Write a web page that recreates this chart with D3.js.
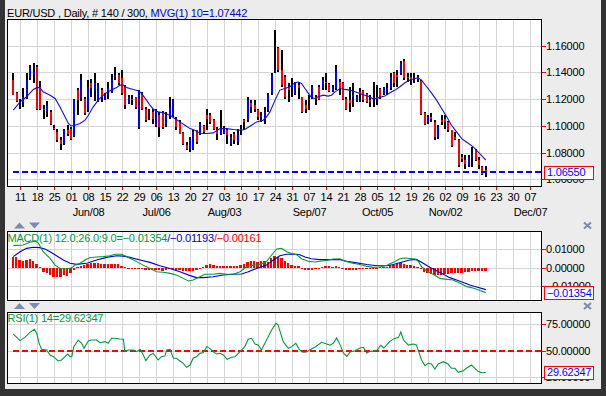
<!DOCTYPE html>
<html><head><meta charset="utf-8">
<script src="https://cdn.jsdelivr.net/npm/d3@7"></script>
<style>
body{margin:0;background:#ececec;}
text{font-family:"Liberation Sans",Arial,sans-serif;font-size:11px;letter-spacing:-0.2px;}
</style>
</head><body>
<svg id="c" width="606" height="396"></svg>
<script>
// ---------- DATA ----------
const openP=[1.1343,1.1243,1.1168,1.1180,1.1230,1.1355,1.1380,1.1443,1.1293,1.1130,1.1105,1.1105,1.0988,1.0955,1.0893,1.0868,1.0968,1.0980,1.0923,1.1268,
1.1218,1.1205,1.1118,1.1318,1.1268,1.1193,1.1268,1.1198,1.1243,1.1255,1.1368,1.1380,1.1355,1.1293,1.1173,1.1205,1.1213,1.0993,1.1243,1.1130,
1.1093,1.1105,1.1005,1.1080,1.1093,1.1018,1.1080,1.1080,1.1055,1.1030,1.0948,1.0855,1.0830,1.0830,1.0968,1.0943,1.0998,1.1080,1.1085,1.1048,
1.0968,1.0943,1.0948,1.0968,1.0868,1.0943,1.0880,1.0968,1.1043,1.1043,1.1168,1.1155,1.1118,1.1068,1.1055,1.1118,1.1243,1.1405,1.1580,1.1418,
1.1368,1.1293,1.1293,1.1238,1.1305,1.1213,1.1155,1.1193,1.1218,1.1218,1.1293,1.1280,1.1330,1.1313,1.1260,1.1280,1.1330,1.1318,1.1205,1.1193,
1.1218,1.1185,1.1255,1.1260,1.1238,1.1193,1.1205,1.1218,1.1275,1.1238,1.1268,1.1280,1.1393,1.1380,1.1393,1.1488,1.1368,1.1363,1.1355,1.1363,
1.1338,1.1093,1.1030,1.1068,1.1030,1.0918,1.1043,1.1055,1.1030,1.0968,1.0918,1.0898,1.0768,1.0743,1.0705,1.0768,1.0818,1.0743,1.0693,1.0668];
const highP=[1.1398,1.1255,1.1205,1.1280,1.1393,1.1455,1.1468,1.1455,1.1338,1.1155,1.1188,1.1118,1.1005,1.0975,1.0918,1.0980,1.1010,1.0993,1.1200,1.1280,
1.1388,1.1218,1.1343,1.1348,1.1398,1.1318,1.1280,1.1243,1.1330,1.1385,1.1438,1.1393,1.1418,1.1305,1.1230,1.1230,1.1218,1.1268,1.1255,1.1143,
1.1125,1.1125,1.1130,1.1105,1.1110,1.1105,1.1218,1.1205,1.1068,1.1043,1.0955,1.0880,1.0918,1.0968,1.0973,1.1030,1.1005,1.1130,1.1098,1.1055,
1.0993,1.1118,1.0998,1.0980,1.0943,1.0955,1.0980,1.1005,1.1055,1.1218,1.1193,1.1193,1.1130,1.1105,1.1143,1.1243,1.1398,1.1718,1.1593,1.1568,
1.1380,1.1318,1.1355,1.1330,1.1330,1.1218,1.1193,1.1230,1.1305,1.1230,1.1305,1.1368,1.1393,1.1318,1.1305,1.1455,1.1348,1.1330,1.1218,1.1293,
1.1318,1.1230,1.1280,1.1268,1.1243,1.1230,1.1330,1.1305,1.1280,1.1293,1.1318,1.1393,1.1405,1.1418,1.1488,1.1498,1.1393,1.1393,1.1393,1.1380,
1.1343,1.1105,1.1080,1.1098,1.1043,1.1005,1.1080,1.1080,1.1038,1.0973,1.0955,1.0905,1.0793,1.0780,1.0780,1.0843,1.0830,1.0768,1.0698,1.0698];
const lowP=[1.1230,1.1180,1.1130,1.1143,1.1205,1.1343,1.1318,1.1118,1.1118,1.1055,1.1068,1.1005,1.0968,1.0880,1.0818,1.0855,1.0925,1.0893,1.0918,1.1080,
1.1188,1.1080,1.1105,1.1218,1.1188,1.1180,1.1180,1.1193,1.1205,1.1243,1.1343,1.1305,1.1230,1.1130,1.1163,1.1155,1.1130,1.0980,1.1118,1.1030,
1.1043,1.1018,1.0993,1.0918,1.0980,1.0993,1.1055,1.1068,1.0968,1.0938,1.0855,1.0818,1.0805,1.0818,1.0868,1.0930,1.0943,1.0968,1.1018,1.0968,
1.0893,1.0930,1.0943,1.0868,1.0848,1.0868,1.0855,1.0930,1.0968,1.1030,1.1093,1.1105,1.1043,1.1030,1.1018,1.1105,1.1230,1.1393,1.1405,1.1293,
1.1205,1.1180,1.1218,1.1230,1.1205,1.1093,1.1093,1.1118,1.1205,1.1155,1.1193,1.1268,1.1268,1.1255,1.1255,1.1268,1.1230,1.1193,1.1118,1.1105,
1.1143,1.1180,1.1180,1.1180,1.1168,1.1138,1.1143,1.1155,1.1205,1.1230,1.1230,1.1268,1.1293,1.1293,1.1380,1.1343,1.1330,1.1305,1.1318,1.1330,
1.1080,1.1005,1.1018,1.1030,1.0898,1.0905,1.1005,1.0980,1.0955,1.0843,1.0893,1.0693,1.0730,1.0680,1.0693,1.0693,1.0738,1.0680,1.0630,1.0618];
const closeP=[1.1235,1.1188,1.1180,1.1218,1.1343,1.1430,1.1405,1.1130,1.1130,1.1118,1.1155,1.1013,1.0975,1.0893,1.0868,1.0968,1.0943,1.0905,1.1193,1.1193,
1.1343,1.1093,1.1293,1.1280,1.1318,1.1305,1.1218,1.1235,1.1280,1.1343,1.1380,1.1318,1.1243,1.1155,1.1218,1.1193,1.1143,1.1255,1.1130,1.1043,
1.1105,1.1055,1.1118,1.0993,1.0993,1.1080,1.1143,1.1193,1.0993,1.0943,1.0868,1.0830,1.0893,1.0955,1.0880,1.1018,1.0955,1.1055,1.1030,1.0980,
1.0943,1.0980,1.0988,1.0930,1.0918,1.0893,1.0943,1.0980,1.1030,1.1193,1.1143,1.1130,1.1068,1.1080,1.1105,1.1230,1.1380,1.1418,1.1418,1.1305,
1.1218,1.1268,1.1305,1.1323,1.1280,1.1105,1.1130,1.1205,1.1293,1.1205,1.1205,1.1343,1.1318,1.1263,1.1293,1.1418,1.1280,1.1205,1.1130,1.1168,
1.1230,1.1223,1.1243,1.1193,1.1180,1.1180,1.1218,1.1205,1.1213,1.1280,1.1280,1.1368,1.1318,1.1368,1.1473,1.1355,1.1355,1.1348,1.1363,1.1348,
1.1088,1.1018,1.1068,1.1055,1.0918,1.0993,1.1030,1.1030,1.0968,1.0848,1.0905,1.0705,1.0755,1.0718,1.0768,1.0780,1.0743,1.0705,1.0643,1.0655];

// moving average MVG(10), read as [bar, value]
const maLine=[[0,1.1118],[2,1.1180],[3.9,1.1218],[5.9,1.1273],[7.1,1.1288],[7.8,1.1285],[8.8,1.1255],[10.8,1.1230],[12.3,1.1205],[13.7,1.1143],
[15.2,1.1068],[16.2,1.1018],[17,1.1000],[18.1,1.1005],[19.6,1.1018],[21.1,1.1043],[22.1,1.1080],[23.5,1.1143],[25,1.1193],[26.5,1.1230],
[27.5,1.1250],[28.9,1.1268],[30.4,1.1288],[31.4,1.1305],[32.4,1.1305],[33.3,1.1288],[35.3,1.1273],[36.8,1.1263],[37.7,1.1243],[39.2,1.1193],
[40.2,1.1155],[41.2,1.1125],[42.6,1.1105],[44.1,1.1098],[46.1,1.1080],[47.5,1.1055],[49,1.1030],[50.5,1.1005],[52,1.0980],[53.4,1.0968],
[54.9,1.0945],[56.9,1.0943],[58.8,1.0948],[60.8,1.0980],[62.7,1.0980],[64.7,1.0973],[66.7,1.0968],[68.1,1.0973],[69.6,1.0998],[71.6,1.1030],
[73.5,1.1043],[74.5,1.1068],[75.5,1.1105],[77,1.1193],[78.4,1.1268],[79.9,1.1280],[81.4,1.1293],[82.8,1.1323],[83.8,1.1328],[84.8,1.1318],
[85.8,1.1280],[86.8,1.1243],[87.7,1.1213],[88.7,1.1205],[89.7,1.1218],[91.2,1.1230],[92.6,1.1223],[93.6,1.1230],[94.6,1.1255],[96.1,1.1280],
[97.5,1.1273],[99,1.1268],[100.5,1.1255],[101.9,1.1243],[103.4,1.1230],[104.9,1.1218],[105.9,1.1200],[107.3,1.1210],[109.3,1.1223],[110.8,1.1248],
[112.3,1.1268],[113.7,1.1293],[115.2,1.1323],[116.7,1.1343],[118.1,1.1355],[119.1,1.1360],[120.1,1.1343],[121.6,1.1293],[123.1,1.1243],[124.5,1.1193],
[126,1.1130],[127.5,1.1068],[128.9,1.1005],[130.4,1.0955],[131.9,1.0905],[133.3,1.0880],[135.3,1.0843],[137.2,1.0793],[139,1.07442]];

const macdLine=[[0,0.0120],[2.9,0.0123],[4.9,0.0138],[6.4,0.0147],[7.4,0.0132],[8.8,0.0087],[10.8,0.0051],[12.3,0.0014],[13.7,-0.0004],[15.7,-0.0007],
[17.2,0],[18.1,0.0014],[19.6,0.0024],[21.1,0.0042],[22.5,0.0054],[24.5,0.0058],[26.5,0.0060],[28.4,0.0065],[29.9,0.0073],[31.9,0.0073],
[32.8,0.0065],[34.3,0.0051],[36.3,0.0033],[38.2,0.0014],[40.2,-0.0004],[42.2,-0.0022],[44.1,-0.0025],[46.1,-0.0031],[48,-0.0040],[50,-0.0058],
[51.5,-0.0072],[52.9,-0.0067],[54.9,-0.0049],[56.4,-0.0036],[58.8,-0.0036],[60.8,-0.0031],[62.7,-0.0036],[64.7,-0.0036],[66.7,-0.0022],[68.6,0.0005],
[70.6,0.0014],[72.5,0.0018],[74.5,0.0033],[76,0.0069],[77.5,0.0102],[78.9,0.0105],[80.4,0.0087],[81.9,0.0077],[83.3,0.0071],[84.8,0.0049],
[86.8,0.0035],[88.7,0.0031],[90.2,0.0035],[92.2,0.0040],[94.1,0.0047],[96.1,0.0049],[97.6,0.0035],[99.5,0.0026],[102,0.0017],[104,0.0007],
[105.9,0.0002],[107.9,0.0004],[109.9,0.0013],[111.8,0.0029],[113.7,0.0049],[115.2,0.0053],[118.2,0.0047],[119.2,0.0033],[120.1,0.0005],[121.6,-0.0018],
[123.5,-0.0036],[125.5,-0.0058],[127,-0.0062],[129.4,-0.0067],[131.4,-0.0085],[133.5,-0.0103],[135.5,-0.0112],[137.5,-0.0125],[139,-0.01354]];

const signalLine=[[0,0.0060],[2,0.0087],[3.9,0.0105],[5.9,0.0111],[7.8,0.0109],[9.3,0.0102],[10.8,0.0087],[12.7,0.0065],[14.7,0.0042],[16.7,0.0024],
[18.6,0.0018],[21.6,0.0024],[24.5,0.0042],[27.5,0.0056],[30.4,0.0065],[32.4,0.0063],[34.3,0.0056],[37.3,0.0042],[40.2,0.0029],[43.1,0.0011],
[46.1,-0.0004],[49,-0.0022],[52,-0.0043],[53.9,-0.0054],[55.9,-0.0054],[58.8,-0.0049],[61.8,-0.0040],[64.7,-0.0036],[67.2,-0.0034],[69.1,-0.0022],
[71.6,-0.0004],[74.5,0.0014],[76.5,0.0042],[78.4,0.0065],[80.4,0.0073],[82.4,0.0074],[84.3,0.0070],[85.8,0.0058],[87.7,0.0049],[90.2,0.0044],
[93.2,0.0044],[96.1,0.0044],[98.1,0.0035],[101,0.0026],[104,0.0017],[106.9,0.0011],[109.9,0.0011],[111.8,0.0017],[114.2,0.0030],[116.6,0.0042],
[118.6,0.0045],[120.6,0.0024],[122.5,0.0002],[124.5,-0.0016],[126.5,-0.0036],[128.4,-0.0054],[130.4,-0.0067],[132.4,-0.0080],[134.3,-0.0094],[136.3,-0.0105],
[139,-0.01193]];

const histVal=[0.0060,0.0060,0.0042,0.0036,0.0042,0.0045,0.0036,0.0018,0.0005,-0.0022,-0.0030,-0.0040,-0.0049,-0.0049,-0.0049,-0.0040,-0.0043,-0.0030,-0.0013,0.0005,
0.0011,0.0014,0.0018,0.0024,0.0024,0.0024,0.0020,0.0018,0.0018,0.0020,0.0022,0.0018,0.0011,0.0005,0.0000,-0.0004,-0.0007,-0.0004,-0.0007,-0.0013,
-0.0013,-0.0013,-0.0011,-0.0013,-0.0016,-0.0013,-0.0009,-0.0009,-0.0013,-0.0014,-0.0016,-0.0018,-0.0018,-0.0016,-0.0011,-0.0004,0.0004,0.0014,0.0018,0.0014,
0.0011,0.0011,0.0009,0.0011,0.0011,0.0009,0.0011,0.0014,0.0020,0.0033,0.0038,0.0038,0.0033,0.0036,0.0038,0.0033,0.0051,0.0065,0.0060,0.0051,
0.0036,0.0024,0.0014,0.0011,0.0008,-0.0008,-0.0012,-0.0014,-0.0012,-0.0006,-0.0002,0.0004,0.0008,0.0008,0.0006,0.0008,0.0004,-0.0002,-0.0012,-0.0012,
-0.0012,-0.0010,-0.0006,-0.0004,-0.0006,-0.0004,-0.0002,0.0000,0.0002,0.0004,0.0006,0.0012,0.0016,0.0022,0.0025,0.0022,0.0016,0.0012,0.0008,0.0002,
-0.0008,-0.0022,-0.0030,-0.0036,-0.0040,-0.0040,-0.0038,-0.0036,-0.0033,-0.0030,-0.0028,-0.0027,-0.0027,-0.0025,-0.0022,-0.0020,-0.0018,-0.0017,-0.0016,-0.00161];

const rsiLine=[[0,65.6],[2,59.4],[3.4,62.5],[4.9,67.2],[6.2,70],[6.9,66.3],[7.6,56.9],[8.3,51.3],[9.8,50.7],[10.8,46],
[11.8,44.4],[13.2,40.4],[14.2,41.3],[15.2,44.4],[16,46.9],[16.7,44.4],[17.2,44.4],[17.8,53.8],[19.1,60],[20.1,56.9],
[20.8,52.2],[22.1,59.4],[23,60],[24.5,60],[25.5,57.5],[27,58.5],[27.9,56.9],[28.9,61.6],[29.9,61.6],[31.4,61],
[32.4,60.7],[32.8,49.1],[33.8,50.7],[35.3,50.7],[36.3,49.1],[37.3,51.3],[38,47.5],[39,40.7],[40.2,46],[41.2,47.5],
[42.6,41.3],[43.6,44.4],[44.6,45],[45.1,50.7],[46.1,51.3],[47.1,42.9],[48,42.9],[49,40.4],[50,38.2],[51,34.4],
[52,36.6],[52.9,42.9],[53.9,44.4],[54.9,47.5],[55.9,48.2],[56.9,53.8],[57.8,52.2],[58.8,49.1],[59.8,46.9],[60.8,47.5],
[61.8,46],[62.9,41.9],[64.2,43.8],[65.2,44.4],[66.7,49.1],[68.1,53.8],[69.1,60.7],[70.1,61.6],[71.1,56.3],[72,55.3],
[73,50.7],[74.5,60],[76,69.4],[77.3,75.6],[77.9,74.1],[79.4,58.5],[80.9,52.2],[81.9,53.8],[83.1,56.9],[84.1,51.3],
[85.1,48.5],[86.3,48.8],[87.3,51],[88.7,53.2],[90.7,57.9],[92.2,56.3],[93.2,55.1],[94.2,57.2],[95.1,61.9],[96.1,55.7],
[97.1,47.9],[98.1,44.7],[99.1,48.8],[100.5,50],[102,52.5],[103,53.2],[104,47.9],[104.9,49.4],[106.9,50],[108.1,55.1],
[109,52.5],[110.8,58.8],[112,61.3],[113.3,62.5],[114,67.5],[114.8,60],[116.2,55.3],[117.6,56.3],[118.6,55.3],[119.1,50.6],
[120.1,41.3],[121.1,36],[122.1,38.2],[123,37.5],[124,32.9],[125,37.5],[126.5,39.7],[127.9,37.5],[128.9,33.5],[129.9,33.5],
[130.9,29.7],[132.4,31.3],[133.3,33.5],[134.8,36.6],[135.8,33.5],[136.8,30.4],[137.8,29.4],[139,29.62347]];

const dayLabels=["11","18","25","01","08","15","22","29","06","13","20","27","03","10","17","24","31","07","14","21","28","05","12","19","26","02","09","16","23","30","07"];
const monthLabels=["Jun/08","Jul/06","Aug/03","Sep/07","Oct/05","Nov/02","Dec/07"];
const monthAtTick=[4,8,12,17,21,25,30];
const priceTicks=[1.06,1.08,1.10,1.12,1.14,1.16];
const macdTicks=[-0.01,0,0.01];
const rsiTicks=[25,50,75];
const lastPrice=1.0655, maLast=1.07442, macdLast=-0.01354, signalLast=-0.01193, histLast=-0.00161, rsiLast=29.62347, rsiLevel=50;
const firstTickBar=2, barsPerTick=5, totalSlots=152;

// ---------- DRAW ----------
const svg=d3.select("#c");
const L=7.5,R=541.5;
const P={main:{t:19.5,b:186.5},macd:{t:231.5,b:300.5},rsi:{t:312.5,b:383.5}};
const x=d3.scaleLinear().domain([0,totalSlots]).range([13.3,530]);
const yP=d3.scaleLinear().domain([1.06,1.16]).range([179.4,45.7]);
const yM=d3.scaleLinear().domain([-0.01,0.01]).range([286.1,249.3]);
const yR=d3.scaleLinear().domain([25,75]).range([377.4,324]);
const BLUE="#0000ff",RED="#ff0000",GREEN="#009a3a",GRID="#d4d4d4";
const fmt5=d3.format(".5f");

svg.append("rect").attr("width",606).attr("height",396).attr("fill","#ececec");
// frame
svg.append("rect").attr("x",0).attr("y",0).attr("width",5).attr("height",396).attr("fill","#333");
svg.append("rect").attr("x",601).attr("y",0).attr("width",5).attr("height",396).attr("fill","#333");
svg.append("rect").attr("x",0).attr("y",389).attr("width",606).attr("height",7).attr("fill","#333");

const tickIdx=d3.range(dayLabels.length).map(k=>firstTickBar+k*barsPerTick);
const defs=svg.append("defs");

function panel(name,p,yScale,ticks,fmt){
  const g=svg.append("g");
  g.append("rect").attr("x",L).attr("y",p.t).attr("width",R-L).attr("height",p.b-p.t).attr("fill","#fff");
  defs.append("clipPath").attr("id","clip-"+name).append("rect").attr("x",L).attr("y",p.t).attr("width",R-L).attr("height",p.b-p.t);
  const grid=g.append("g").attr("stroke",GRID).attr("stroke-width",1).attr("shape-rendering","crispEdges");
  tickIdx.forEach(i=>{const xx=Math.round(x(i))+0.5; if(xx>L&&xx<R) grid.append("line").attr("x1",xx).attr("x2",xx).attr("y1",p.t).attr("y2",p.b);});
  ticks.forEach(t=>{const yy=Math.round(yScale(t))+0.5; grid.append("line").attr("x1",L).attr("x2",R).attr("y1",yy).attr("y2",yy);});
  const ax=svg.append("g");
  ticks.forEach(t=>{
    const yy=Math.round(yScale(t))+0.5;
    ax.append("line").attr("x1",R).attr("x2",R+4).attr("y1",yy).attr("y2",yy).attr("stroke",RED).attr("shape-rendering","crispEdges");
    ax.append("text").attr("x",546).attr("y",yScale(t)).attr("dy","0.36em").attr("fill","#000").text(fmt(t));
  });
  const inner=svg.append("g").attr("clip-path","url(#clip-"+name+")");
  return {g,inner};
}
function border(p){
  svg.append("rect").attr("x",L).attr("y",p.t).attr("width",R-L).attr("height",p.b-p.t)
    .attr("fill","none").attr("stroke","#000").attr("stroke-width",1).attr("shape-rendering","crispEdges");
}
function lastBox(yv,txt){
  const h=13, yy=Math.round(yv-h/2)+0.5;
  svg.append("rect").attr("x",544.5).attr("y",yy).attr("width",49).attr("height",h).attr("fill","#fff").attr("stroke",RED).attr("shape-rendering","crispEdges");
  svg.append("text").attr("x",547).attr("y",yv).attr("dy","0.36em").attr("fill",BLUE).text(txt);
}

// MAIN
const m=panel("main",P.main,yP,priceTicks,fmt5);
const bars=m.inner.append("g").attr("shape-rendering","crispEdges");
closeP.forEach((c,i)=>{
  const o=openP[i],xc=Math.round(x(i));
  bars.append("rect").attr("x",xc-1).attr("width",2).attr("y",Math.round(yP(highP[i]))).attr("height",Math.max(1,Math.round(yP(lowP[i]))-Math.round(yP(highP[i])))).attr("fill","#000");
  const top=Math.round(yP(Math.max(o,c))),bot=Math.round(yP(Math.min(o,c)));
  bars.append("rect").attr("x",xc-1).attr("width",2).attr("y",top).attr("height",Math.max(1,bot-top)).attr("fill",c>=o?BLUE:RED);
});
m.inner.append("line").attr("x1",x(0)).attr("x2",R).attr("y1",Math.round(yP(lastPrice))).attr("y2",Math.round(yP(lastPrice)))
  .attr("stroke",BLUE).attr("stroke-width",2).attr("stroke-dasharray","6,3").attr("shape-rendering","crispEdges");
m.inner.append("path").datum(maLine).attr("fill","none").attr("stroke","#1010d8").attr("stroke-width",1.1)
  .attr("d",d3.line().x(d=>x(d[0])).y(d=>yP(d[1])));
border(P.main);
lastBox(yP(lastPrice),fmt5(lastPrice));
tickIdx.forEach((i,k)=>{
  const xx=Math.round(x(i))+0.5;
  svg.append("line").attr("x1",xx).attr("x2",xx).attr("y1",P.main.b).attr("y2",P.main.b+3.5).attr("stroke",RED).attr("shape-rendering","crispEdges");
  svg.append("text").attr("x",x(i)+0.5).attr("y",200.5).attr("text-anchor","middle").attr("fill","#000").text(dayLabels[k]);
});
monthLabels.forEach((lab,j)=>{
  svg.append("text").attr("x",x(tickIdx[monthAtTick[j]])+0.5).attr("y",216).attr("text-anchor","middle").attr("fill","#000").text(lab);
});
const t1=svg.append("text").attr("x",7).attr("y",16.5);
t1.append("tspan").attr("fill","#000").text("EUR/USD , Daily, # 140 / 300, ");
t1.append("tspan").attr("fill","#0000c8").text("MVG(1) 10="+maLast.toFixed(5));

// MACD
const mc=panel("macd",P.macd,yM,macdTicks,fmt5);
const hb=mc.inner.append("g").attr("shape-rendering","crispEdges").attr("fill",RED);
histVal.forEach((v,i)=>{
  const x0=Math.round(x(i-0.5)), x1=Math.round(x(i+0.5));
  const y0=Math.round(yM(0)), y1=Math.round(yM(v));
  hb.append("rect").attr("x",x0).attr("width",Math.max(1,x1-x0-0.6)).attr("y",Math.min(y0,y1)).attr("height",Math.max(1,Math.abs(y1-y0)));
});
const lm=d3.line().x(d=>x(d[0])).y(d=>yM(d[1]));
mc.inner.append("path").datum(signalLine).attr("fill","none").attr("stroke","#0000d0").attr("stroke-width",1.1).attr("d",lm);
mc.inner.append("path").datum(macdLine).attr("fill","none").attr("stroke",GREEN).attr("stroke-width",1.1).attr("d",lm);
border(P.macd);
lastBox(yM(macdLast),fmt5(macdLast));
const t2=svg.append("text").attr("x",7.5).attr("y",242);
t2.append("tspan").attr("fill",GREEN).text("MACD(1) 12.0;26.0;9.0="+fmt5(macdLast));
t2.append("tspan").attr("fill","#0000c8").text("/"+fmt5(signalLast));
t2.append("tspan").attr("fill",RED).text("/"+fmt5(histLast));

// RSI
const rs=panel("rsi",P.rsi,yR,rsiTicks,fmt5);
rs.inner.append("line").attr("x1",x(0)).attr("x2",R).attr("y1",Math.round(yR(rsiLevel))).attr("y2",Math.round(yR(rsiLevel)))
  .attr("stroke",RED).attr("stroke-width",2).attr("stroke-dasharray","6,3").attr("shape-rendering","crispEdges");
rs.inner.append("path").datum(rsiLine).attr("fill","none").attr("stroke",GREEN).attr("stroke-width",1.1)
  .attr("d",d3.line().x(d=>x(d[0])).y(d=>yR(d[1])));
border(P.rsi);
lastBox(yR(rsiLast),fmt5(rsiLast));
svg.append("text").attr("x",7.5).attr("y",322).attr("fill",GREEN).text("RSI(1) 14="+fmt5(rsiLast));

function controls(yTop){
  const c="#7b8cb3";
  svg.append("path").attr("d",`M14,${yTop+6}L19.5,${yTop}L25,${yTop+6}Z`).attr("fill",c);
  svg.append("path").attr("d",`M29,${yTop}L40,${yTop}L34.5,${yTop+6}Z`).attr("fill",c);
  svg.append("path").attr("d",`M584,${yTop}L591,${yTop+6}M591,${yTop}L584,${yTop+6}`).attr("stroke",c).attr("stroke-width",2.2);
}
controls(222.5);
controls(303);
</script>
</body></html>
